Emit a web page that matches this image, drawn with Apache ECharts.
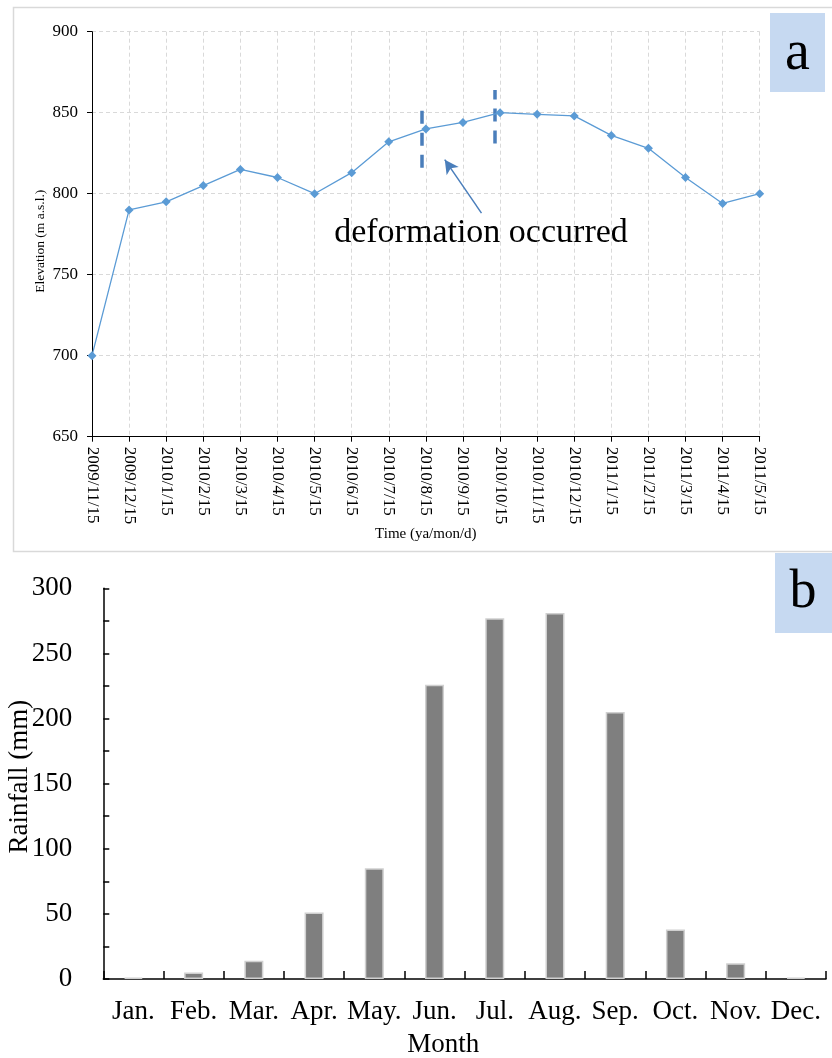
<!DOCTYPE html>
<html>
<head>
<meta charset="utf-8">
<script src="https://cdn.jsdelivr.net/npm/echarts@6/dist/echarts.min.js"></script>
<style>
html,body{margin:0;padding:0;background:#fff;}
#c{width:832px;height:1058px;}
</style>
</head>
<body>
<div id="c"></div>
<script>
// ---- data ----
const dates = ['2009/11/15','2009/12/15','2010/1/15','2010/2/15','2010/3/15','2010/4/15','2010/5/15','2010/6/15','2010/7/15','2010/8/15','2010/9/15','2010/10/15','2010/11/15','2010/12/15','2011/1/15','2011/2/15','2011/3/15','2011/4/15','2011/5/15'];
const elevation = [700,790,795,805,815,810,800,813,832,840,844,850,849,848,836,828,810,794,800];
const elevTicks = [650,700,750,800,850,900];
const months = ['Jan.','Feb.','Mar.','Apr.','May.','Jun.','Jul.','Aug.','Sep.','Oct.','Nov.','Dec.'];
const rainfall = [1,5,14,51,85,226,277,281,205,38,12,1];
const rainTicks = [0,50,100,150,200,250,300];
// annotation marks in data units (x = category index, y = elevation)
const dashX = [8.88, 10.87];
const dashY1 = [816, 831];
const dashY2 = [854, 864];
const arrowFrom = [10.5, 788];
const arrowTo = [9.51, 821];
const noteText = 'deformation occurred';

const FONT = '"Liberation Serif", "Times New Roman", serif';
const chart = echarts.init(document.getElementById('c'), null, {renderer: 'canvas'});

const markData = [];
for (let i = 0; i < dashX.length; i++) {
  markData.push([{coord: [dashX[i], dashY1[i]]}, {coord: [dashX[i], dashY2[i]]}]);
}
const arrowData = [[{coord: arrowFrom}, {coord: arrowTo}]];

const option = {
  animation: false,
  textStyle: {fontFamily: FONT},
  graphic: [
    {type: 'rect', z: -10, shape: {x: 13.5, y: 7.5, width: 830, height: 544},
     style: {fill: 'none', stroke: '#d9d9d9', lineWidth: 1.5}, silent: true},
    {type: 'rect', shape: {x: 770, y: 13, width: 55, height: 79},
     style: {fill: '#c6d9f1'}, silent: true},
    {type: 'text', x: 797.5, y: 54, style: {text: 'a', font: '56px ' + FONT, fill: '#000', align: 'center', verticalAlign: 'middle'}, silent: true},
    {type: 'rect', shape: {x: 775, y: 553, width: 60, height: 80},
     style: {fill: '#c6d9f1'}, silent: true},
    {type: 'text', x: 803, y: 593, style: {text: 'b', font: '54px ' + FONT, fill: '#000', align: 'center', verticalAlign: 'middle'}, silent: true},
    {type: 'text', x: 481, y: 233, style: {text: noteText, font: '34px ' + FONT, fill: '#000', align: 'center', verticalAlign: 'middle'}, silent: true}
  ],
  grid: [
    {left: 92, right: 72.3, top: 31.7, bottom: 621.3, outerBoundsMode: 'none', containLabel: false},
    {left: 103.3, right: 6, top: 588.3, bottom: 79, outerBoundsMode: 'none', containLabel: false}
  ],
  xAxis: [
    {
      type: 'category', gridIndex: 0, data: dates, boundaryGap: false,
      axisLine: {lineStyle: {color: '#000', width: 1}},
      axisTick: {show: true, length: 5, lineStyle: {color: '#000'}},
      axisLabel: {rotate: -90, fontSize: 17, color: '#000', margin: 10, fontFamily: FONT, interval: 0},
      splitLine: {show: true, lineStyle: {color: '#d9d9d9', type: [4, 3], width: 1}},
      name: 'Time (ya/mon/d)', nameLocation: 'middle', nameGap: 90, nameMoveOverlap: false,
      nameTextStyle: {fontSize: 15, color: '#000', fontFamily: FONT}
    },
    {
      type: 'value', gridIndex: 0, min: 0, max: 18, show: false
    },
    {
      type: 'category', gridIndex: 1, data: months, boundaryGap: true,
      axisLine: {lineStyle: {color: '#000', width: 1.5}},
      axisTick: {show: true, inside: true, length: 8, lineStyle: {color: '#000', width: 1.5}},
      axisLabel: {fontSize: 27, color: '#000', margin: 19, fontFamily: FONT, interval: 0},
      splitLine: {show: false},
      name: 'Month', nameLocation: 'middle', nameGap: 52, nameMoveOverlap: false,
      nameTextStyle: {fontSize: 27, color: '#000', fontFamily: FONT, padding: [0, 43, 0, 0]}
    }
  ],
  yAxis: [
    {
      type: 'value', gridIndex: 0, min: elevTicks[0], max: elevTicks[elevTicks.length - 1], interval: elevTicks[1] - elevTicks[0],
      axisLine: {show: true, lineStyle: {color: '#000', width: 1}},
      axisTick: {show: true, length: 5, lineStyle: {color: '#000'}},
      axisLabel: {fontSize: 17, color: '#000', margin: 14, fontFamily: FONT},
      splitLine: {show: true, lineStyle: {color: '#d9d9d9', type: [4, 3], width: 1}},
      name: 'Elevation (m a.s.l.)', nameLocation: 'middle', nameGap: 45, nameRotate: 90, nameMoveOverlap: false,
      nameTextStyle: {fontSize: 13.5, color: '#000', fontFamily: FONT, padding: [0, 14, 0, 0]}
    },
    {
      type: 'value', gridIndex: 1, min: rainTicks[0], max: rainTicks[rainTicks.length - 1], interval: rainTicks[1] - rainTicks[0],
      axisLine: {show: true, lineStyle: {color: '#000', width: 1.5}},
      axisTick: {show: true, inside: true, length: 6, lineStyle: {color: '#000', width: 1.5}},
      minorTick: {show: true, splitNumber: 2, length: 6, lineStyle: {color: '#000', width: 1.5}},
      axisLabel: {fontSize: 27, color: '#000', margin: 31, fontFamily: FONT},
      splitLine: {show: false},
      name: 'Rainfall (mm)', nameLocation: 'middle', nameGap: 70, nameRotate: 90, nameMoveOverlap: false,
      nameTextStyle: {fontSize: 27, color: '#000', fontFamily: FONT, padding: [0, 0, 0, 14]}
    }
  ],
  series: [
    {
      type: 'line', xAxisIndex: 0, yAxisIndex: 0, data: elevation,
      symbol: 'diamond', symbolSize: 9, showSymbol: true,
      lineStyle: {color: '#5b9bd5', width: 1.3},
      itemStyle: {color: '#5b9bd5'},
      z: 5
    },
    {
      type: 'line', xAxisIndex: 1, yAxisIndex: 0, data: [], silent: true,
      markLine: {
        silent: true, symbol: ['none', 'none'], label: {show: false},
        lineStyle: {color: '#4a7ebb', width: 3.5, type: [13, 9]},
        data: markData
      }
    },
    {
      type: 'line', xAxisIndex: 1, yAxisIndex: 0, data: [], silent: true,
      markLine: {
        silent: true, symbol: ['none', 'arrow'], symbolSize: [11, 14], label: {show: false},
        lineStyle: {color: '#4a7ebb', width: 1.5, type: 'solid'},
        data: arrowData
      }
    },
    {
      type: 'bar', xAxisIndex: 2, yAxisIndex: 1, data: rainfall,
      barWidth: 19,
      itemStyle: {color: '#7f7f7f', borderColor: '#d0d0d0', borderWidth: 1.5}
    }
  ]
};
chart.setOption(option);
</script>
</body>
</html>
